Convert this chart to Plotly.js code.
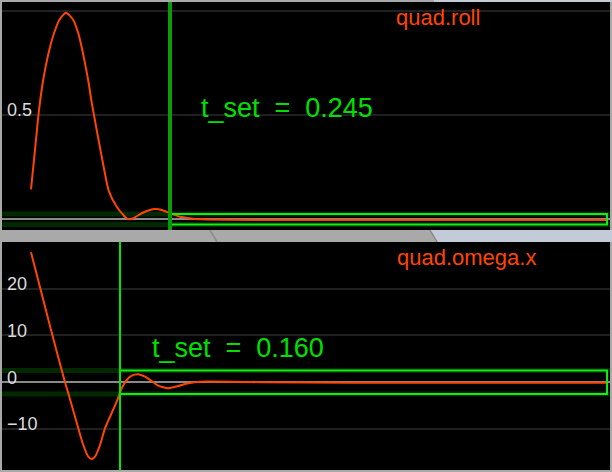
<!DOCTYPE html>
<html><head><meta charset="utf-8">
<script src="https://cdn.plot.ly/plotly-3.0.1.min.js"></script>
<style>html,body{margin:0;padding:0;background:#a9a9a9;overflow:hidden}</style>
</head><body><div id="chart" style="width:612px;height:472px"></div>
<script>
// quad.roll (top panel)
const rollT = [0.0087,0.0155,0.0223,0.0285,0.0336,0.0398,0.0478,0.0568,0.0682,0.0806,0.0891,0.0959,0.1016,0.1068,0.1112,0.1158,0.1214,0.1322,0.1407,0.1544,0.1656,0.1741,0.1826,0.1969,0.2110,0.2195,0.2309,0.2450,0.2620,0.2790,0.2960,0.40,0.55,0.70,0.85,0.988];
const rollV = [0.144,0.333,0.525,0.653,0.733,0.813,0.893,0.957,0.992,0.957,0.893,0.813,0.733,0.653,0.572,0.500,0.413,0.252,0.138,0.060,0.021,0.000,0.005,0.029,0.045,0.049,0.045,0.029,0.012,0.005,0.000,-0.003,-0.003,-0.003,-0.003,-0.003];
// quad.omega.x (bottom panel)
const omegaT = [0.0087,0.0245,0.0450,0.0665,0.0738,0.0891,0.0976,0.1061,0.1119,0.1175,0.1260,0.1345,0.1544,0.1629,0.1714,0.1799,0.1911,0.2025,0.2139,0.2251,0.2421,0.2591,0.2761,0.2960,0.40,0.55,0.70,0.85,0.988];
const omegaV = [27.76,20.06,10.09,-0.02,-3.10,-9.85,-13.42,-15.92,-16.41,-15.92,-13.42,-9.85,-4.17,-1.30,0.47,1.39,1.69,1.18,0.26,-0.75,-1.30,-0.81,-0.24,0.11,0.0,-0.1,-0.1,-0.1,-0.1];
// settling info
const rollTset = 0.245, rollBand = 0.025, rollEnd = 0.988;
const omegaTset = 0.160, omegaBand = 2.5, omegaEnd = 0.988;
// tick labels
const rollTickVals = [0, 0.5, 1];
const rollTickText = ['', '0.5', ''];
const omegaTickVals = [-10, 0, 10, 20];
const omegaTickText = ['\u221210', '0', '10', '20'];

const FONT = 'Liberation Sans, Arial, sans-serif';
const RED = '#ff4500';
const NB = '\u00a0';

const traces = [
  {x: rollT, y: rollV, xaxis: 'x', yaxis: 'y', type: 'scatter', mode: 'lines',
   line: {color: RED, width: 2, shape: 'spline', smoothing: 0.6}, hoverinfo: 'skip'},
  {x: omegaT, y: omegaV, xaxis: 'x2', yaxis: 'y2', type: 'scatter', mode: 'lines',
   line: {color: RED, width: 2, shape: 'spline', smoothing: 0.6}, hoverinfo: 'skip'}
];

const xr = [-0.0406, 0.9930];
const xax = (anchor) => ({domain: [0, 1], anchor: anchor, range: xr, showgrid: false, zeroline: false,
  showticklabels: false, ticks: '', showline: false, fixedrange: true});
const yax = (dom, range, tv, tt) => ({domain: dom, range: range, tickvals: tv, ticktext: tt,
  ticks: '', ticklabelposition: 'inside', ticklabelshift: -5, ticklabelstandoff: 2,
  tickfont: {family: FONT, size: 18, color: '#dcdcdc'},
  showgrid: true, gridcolor: '#202020', gridwidth: 2,
  zeroline: true, zerolinecolor: '#8a8a8a', zerolinewidth: 2, showline: false, fixedrange: true});

const band = (xref, yref, yv) => ({type: 'line', xref: xref + ' domain', yref: yref, x0: 0, x1: 1, y0: yv, y1: yv,
  line: {color: 'rgba(0,255,0,0.16)', width: 5}, layer: 'below'});

const shapes = [
  band('x', 'y', rollBand), band('x', 'y', -rollBand),
  band('x2', 'y2', omegaBand), band('x2', 'y2', -omegaBand),
  {type: 'rect', xref: 'x', yref: 'y', x0: rollTset, x1: rollEnd, y0: -rollBand, y1: rollBand,
   line: {color: '#11ee11', width: 2}},
  {type: 'line', xref: 'x', yref: 'y domain', x0: rollTset, x1: rollTset, y0: 0, y1: 1,
   line: {color: '#0a9a0a', width: 4}},
  {type: 'rect', xref: 'x2', yref: 'y2', x0: omegaTset, x1: omegaEnd, y0: -omegaBand, y1: omegaBand,
   line: {color: '#11ee11', width: 2}},
  {type: 'line', xref: 'x2', yref: 'y2 domain', x0: omegaTset, x1: omegaTset, y0: 0, y1: 1,
   line: {color: '#00e600', width: 2}},
  // separator tab decoration
  {type: 'path', xref: 'paper', yref: 'paper', path: 'M 0.7039 0.5128 L 0.7155 0.4872 L 1.01 0.4872 L 1.01 0.5128 Z',
   fillcolor: '#c3cbd8', line: {width: 0}},
  {type: 'line', xref: 'paper', yref: 'paper', x0: 0.3421, x1: 0.3536, y0: 0.5128, y1: 0.4872, line: {color: '#8a8a8a', width: 1.5}},
  {type: 'line', xref: 'paper', yref: 'paper', x0: 0.7039, x1: 0.7155, y0: 0.5128, y1: 0.4872, line: {color: '#8a8a8a', width: 1.5}},
  {type: 'rect', xref: 'paper', yref: 'paper', x0: 0.7105, x1: 1.01, y0: 1.0, y1: 1.01, fillcolor: '#c3cbd8', line: {width: 0}}
];

const ann = (xref, yref, text, xshift, yshift, size, color, xv) => ({
  xref: xv === undefined ? xref + ' domain' : xref, yref: yref + ' domain',
  x: xv === undefined ? 0 : xv, y: 1, xanchor: 'left', yanchor: 'top',
  xshift: xshift, yshift: yshift, text: text, showarrow: false,
  font: {family: FONT, size: size, color: color}});

const annotations = [
  ann('x', 'y', 'quad.roll', 392, -1, 22, RED),
  ann('x2', 'y2', 'quad.omega.x', 393, -1, 22, RED),
  ann('x', 'y', 't_set' + NB + NB + '=' + NB + NB + rollTset.toFixed(3), 29, -89, 27, '#00e000', rollTset),
  ann('x2', 'y2', 't_set' + NB + NB + '=' + NB + NB + omegaTset.toFixed(3), 30, -89, 27, '#00e000', omegaTset)
];

const layout = {
  width: 612, height: 472,
  margin: {l: 2, r: 2, t: 2, b: 2, pad: 0},
  paper_bgcolor: '#a9a9a9', plot_bgcolor: '#000000',
  showlegend: false,
  font: {family: FONT},
  xaxis: xax('y'), xaxis2: xax('y2'),
  yaxis: yax([0.51282, 1], [-0.0514, 1.0432], rollTickVals, rollTickText),
  yaxis2: yax([0, 0.48718], [-18.76, 29.96], omegaTickVals, omegaTickText),
  shapes: shapes, annotations: annotations
};

Plotly.newPlot('chart', traces, layout, {displayModeBar: false, staticPlot: true});
</script></body></html>
